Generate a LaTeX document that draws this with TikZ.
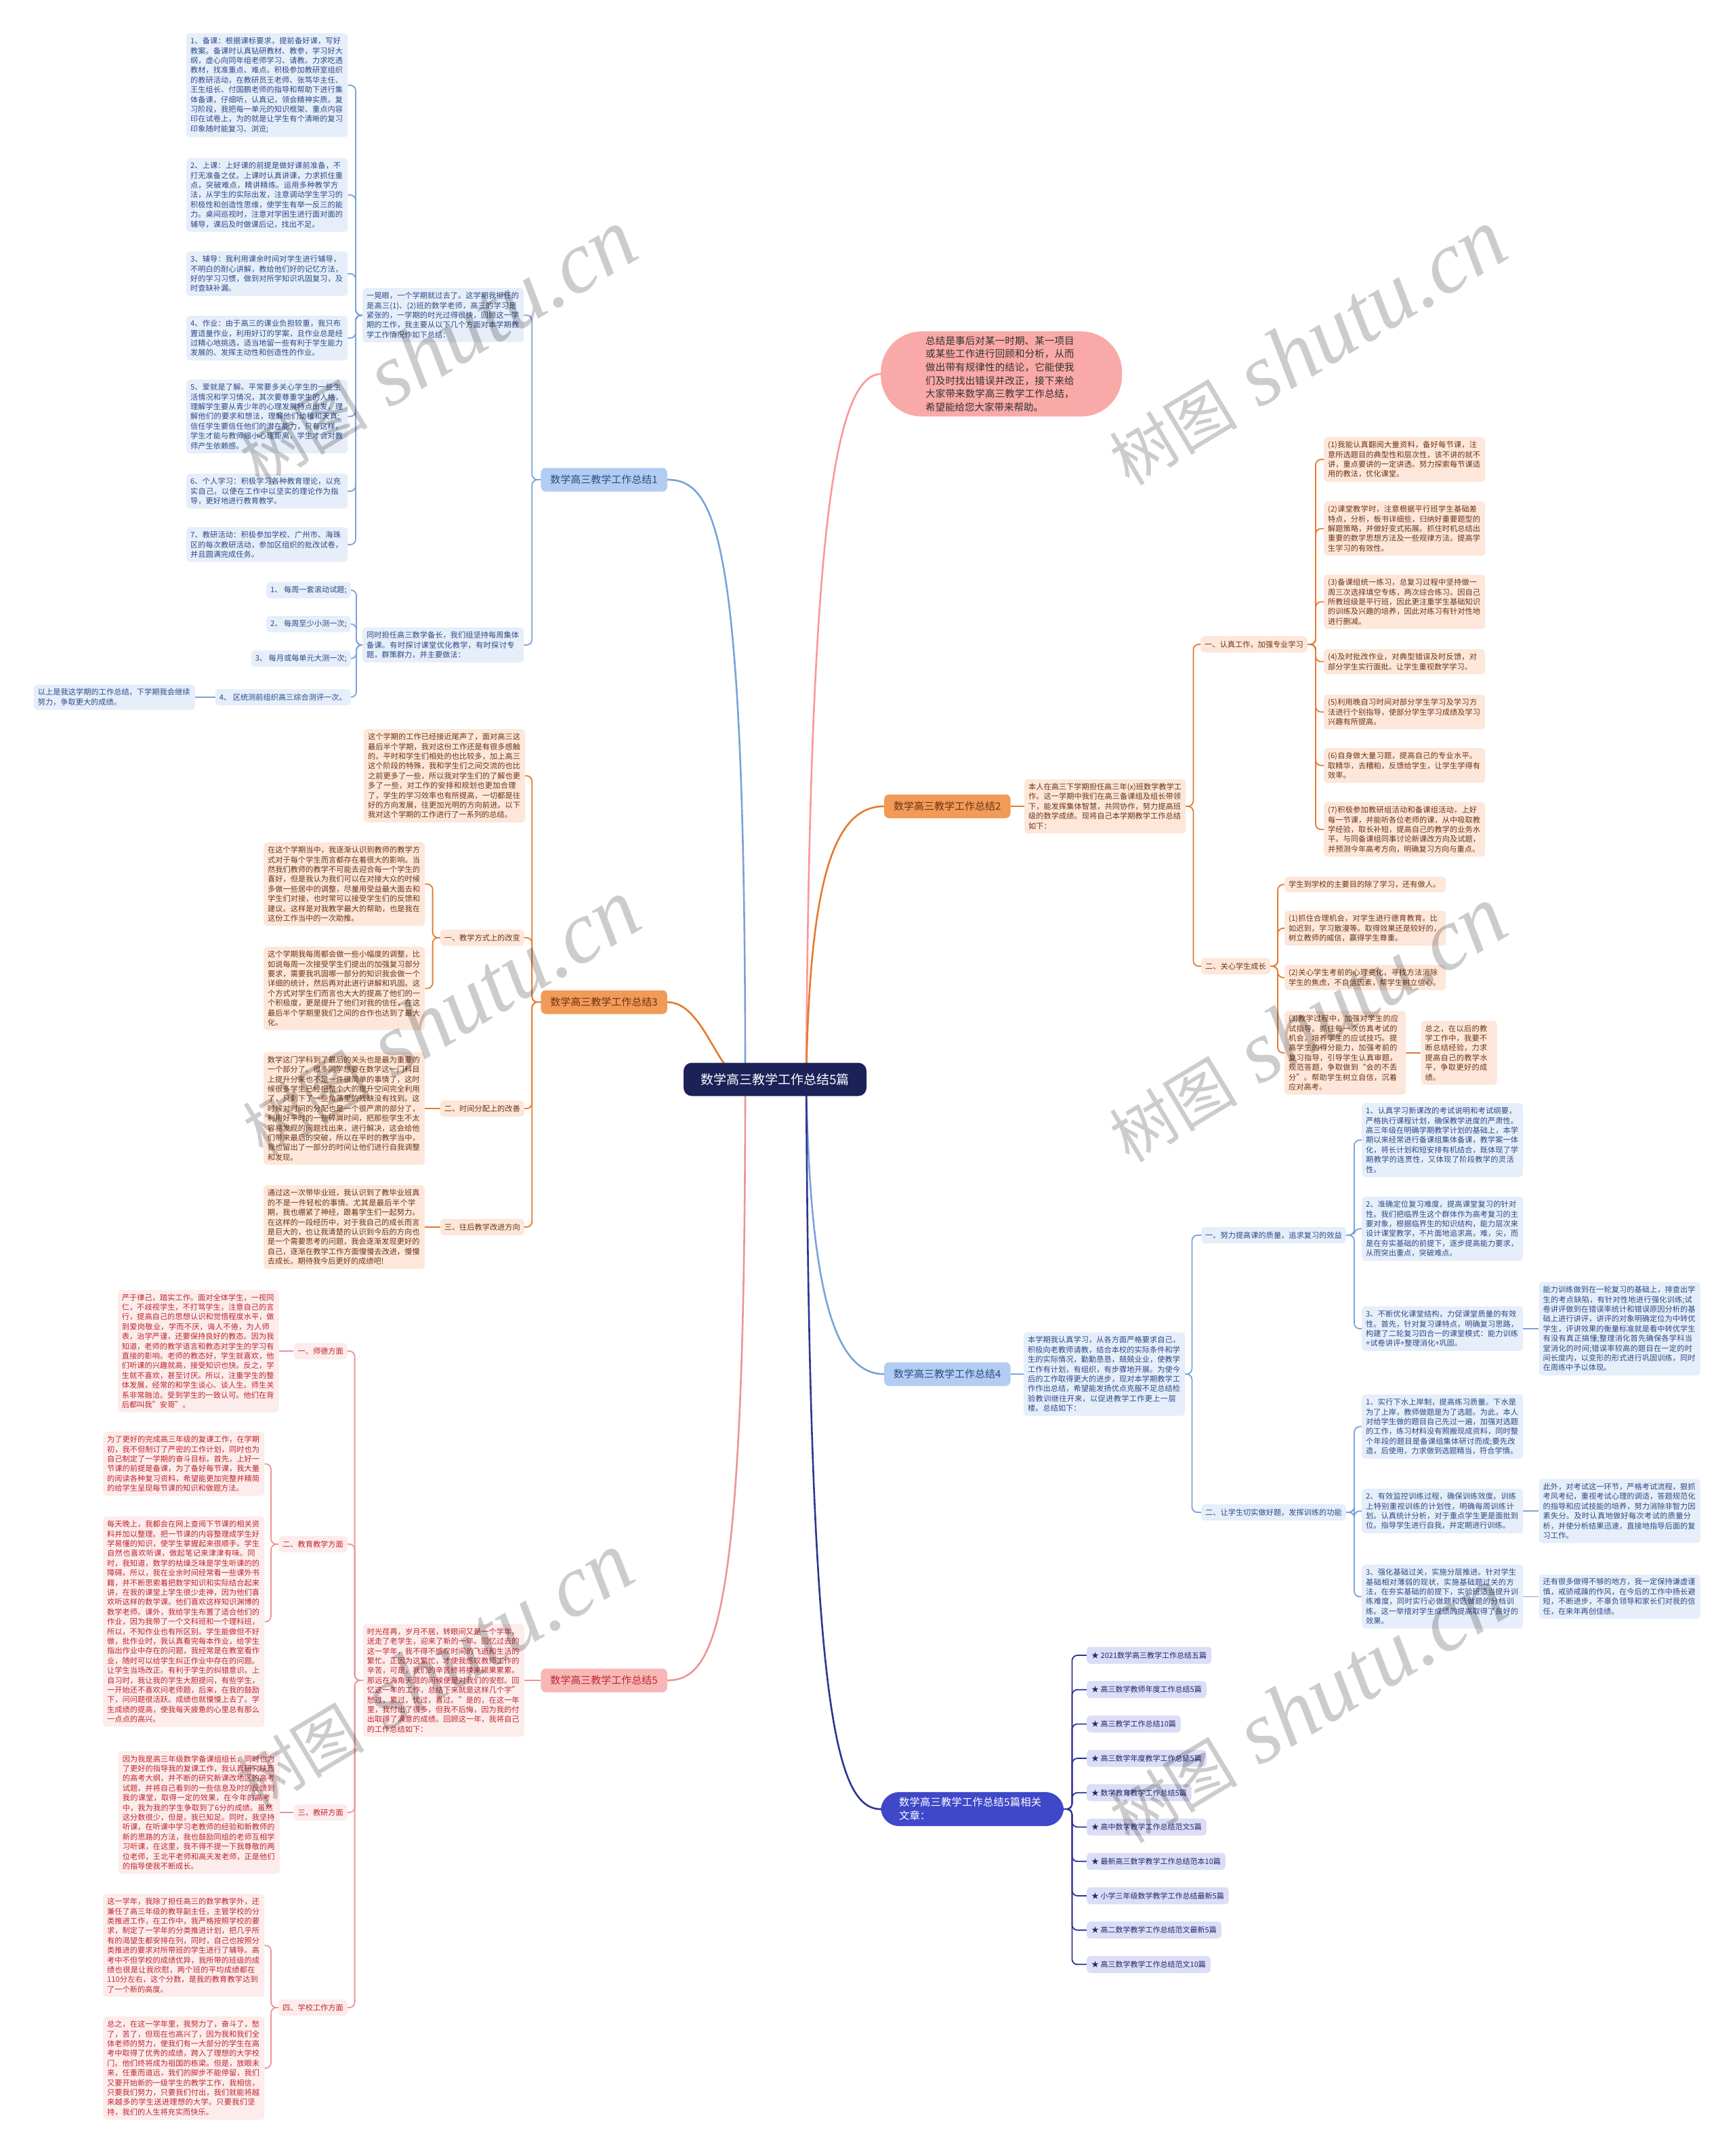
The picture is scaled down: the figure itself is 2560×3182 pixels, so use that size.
\documentclass[tikz,border=0pt]{standalone}
\usepackage{fontspec}
\setmainfont{Noto Sans CJK SC}
\newfontfamily\wmfont{Liberation Serif}
\usetikzlibrary{positioning}
\XeTeXlinebreaklocale "zh"
\XeTeXlinebreakskip=0pt plus 1pt

\definecolor{rootc}{HTML}{1C2257}
\definecolor{relc}{HTML}{3F48C8}
\definecolor{rell}{HTML}{2E3592}
\definecolor{relf}{HTML}{DCDDF6}
\definecolor{relt}{HTML}{23286A}
\definecolor{bluel}{HTML}{7AA2DB}
\definecolor{bluef}{HTML}{E6EEFA}
\definecolor{bluet}{HTML}{2B4C86}
\definecolor{blueb}{HTML}{B3CCF2}
\definecolor{orgl}{HTML}{E57A2E}
\definecolor{orgf}{HTML}{FDE7DA}
\definecolor{orgt}{HTML}{6E3412}
\definecolor{orgb}{HTML}{F29A57}
\definecolor{pnkl}{HTML}{EC9496}
\definecolor{pnkf}{HTML}{FDECEC}
\definecolor{pnkt}{HTML}{C0262D}
\definecolor{pnkb}{HTML}{F7B7B7}
\definecolor{introc}{HTML}{F9A9A7}

\pgfdeclarelayer{bg}
\pgfsetlayers{bg,main}

\begin{document}
\begin{tikzpicture}[x=1pt,y=-1pt,
  rootnode/.style={fill=rootc,text=white,rounded corners=12pt,inner xsep=24pt,minimum width=270pt,minimum height=49pt,font=\fontsize{19}{22}\selectfont},
  brn/.style={rounded corners=7pt,inner xsep=14pt,minimum height=35pt,font=\fontsize{15}{18}\selectfont},
  leaf/.style={rounded corners=5pt,inner xsep=6pt,inner ysep=6pt,text width=226pt,align=left,font=\fontsize{11.2}{14.4}\selectfont},
  tag/.style={rounded corners=5pt,inner xsep=6pt,minimum height=24pt,font=\fontsize{11.2}{14.4}\selectfont},
  bleaf/.style={fill=bluef,text=bluet},
  oleaf/.style={fill=orgf,text=orgt},
  pleaf/.style={fill=pnkf,text=pnkt},
  bubble/.style={fill=introc,text=black!80,rounded corners=60pt,inner xsep=66pt,inner ysep=7pt,text width=224pt,align=left,font=\fontsize{14.5}{19.6}\selectfont},
  relnode/.style={fill=relc,text=white,rounded corners=27pt,inner xsep=27pt,inner ysep=8pt,text width=216pt,align=left,font=\fontsize{15.3}{20}\selectfont},
  rleaf/.style={fill=relf,text=relt,rounded corners=5pt,inner xsep=7pt,minimum height=25pt,font=\fontsize{11}{13}\selectfont},
  limb/.style={line width=2.6pt},
  twig/.style={line width=1.8pt,rounded corners=8pt},
  wmark/.style={text=black,text opacity=0.2,rotate=31}]

\useasboundingbox (0,0) rectangle (2560,3182);

% centre
\node[rootnode] (root) at (1144,1593) {数学高三教学工作总结5篇};
\coordinate (rootL) at (1100,1593);
\coordinate (rootR) at (1190,1593);

% branch 1
\node[brn,fill=blueb,text=bluet,anchor=east] (b1) at (985,708) {数学高三教学工作总结1};
\node[leaf,bleaf,anchor=north west] (intro1) at (535,425) {一晃眼，一个学期就过去了。这学期我担任的是高三(1)、(2)班的数学老师，高三的学习是紧张的，一学期的时光过得很快，回顾这一学期的工作，我主要从以下几个方面对本学期教学工作情况作如下总结：};
\node[leaf,bleaf,anchor=north west] (p1) at (275,49) {1、备课：根据课标要求，提前备好课，写好教案。备课时认真钻研教材、教参，学习好大纲，虚心向同年组老师学习、请教。力求吃透教材，找准重点、难点。积极参加教研室组织的教研活动，在教研员王老师、张笃华主任、王生组长、付国鹏老师的指导和帮助下进行集体备课，仔细听，认真记，领会精神实质。复习阶段，我把每一单元的知识框架、重点内容印在试卷上，为的就是让学生有个清晰的复习印象随时能复习、浏览;};
\node[leaf,bleaf,anchor=north west] (p2) at (275,233) {2、上课：上好课的前提是做好课前准备，不打无准备之仗。上课时认真讲课，力求抓住重点，突破难点，精讲精练。运用多种教学方法，从学生的实际出发，注意调动学生学习的积极性和创造性思维，使学生有举一反三的能力。桌间巡视时，注意对学困生进行面对面的辅导，课后及时做课后记，找出不足。};
\node[leaf,bleaf,anchor=north west] (p3) at (275,371) {3、辅导：我利用课余时间对学生进行辅导，不明白的耐心讲解，教给他们好的记忆方法，好的学习习惯，做到对所学知识巩固复习，及时查缺补漏。};
\node[leaf,bleaf,anchor=north west] (p4) at (275,466) {4、作业：由于高三的课业负担较重，我只布置适量作业，利用好订的学案，且作业总是经过精心地挑选，适当地留一些有利于学生能力发展的、发挥主动性和创造性的作业。};
\node[leaf,bleaf,anchor=north west] (p5) at (275,560) {5、爱就是了解。平常要多关心学生的一些生活情况和学习情况，其次要尊重学生的人格，理解学生要从青少年的心理发展特点出发，理解他们的要求和想法，理解他们幼稚和天真;信任学生要信任他们的潜在能力，只有这样，学生才能与教师缩小心理距离，学生才会对教师产生依赖感。};
\node[leaf,bleaf,anchor=north west] (p6) at (275,699) {6、个人学习：积极学习各种教育理论，以充实自己，以便在工作中以坚实的理论作为指导，更好地进行教育教学。};
\node[leaf,bleaf,anchor=north west] (p7) at (275,778) {7、教研活动：积极参加学校、广州市、海珠区的每次教研活动，参加区组织的批改试卷，并且圆满完成任务。};
\node[leaf,bleaf,anchor=north west] (note1) at (535,926) {同时担任高三数学备长，我们组坚持每周集体备课。有时探讨课堂优化教学，有时探讨专题，群策群力，并主要做法：};
\node[tag,bleaf,anchor=east] (q1) at (518,871) {1、 每周一套滚动试题;};
\node[tag,bleaf,anchor=east] (q2) at (518,921) {2、 每周至少小测一次;};
\node[tag,bleaf,anchor=east] (q3) at (518,972) {3、 每月或每单元大测一次;};
\node[tag,bleaf,anchor=east] (q4) at (518,1029) {4、 区统测前组织高三综合测评一次。};
\node[leaf,bleaf,anchor=east] (c1) at (288,1029) {以上是我这学期的工作总结，下学期我会继续努力，争取更大的成绩。};

% branch 3
\node[brn,fill=orgb,text=orgt,anchor=east] (b3) at (985,1479) {数学高三教学工作总结3};
\node[leaf,oleaf,anchor=north west] (t0) at (537,1076) {这个学期的工作已经接近尾声了，面对高三这最后半个学期，我对这份工作还是有很多感触的。平时和学生们相处的也比较多，加上高三这个阶段的特殊，我和学生们之间交流的也比之前更多了一些，所以我对学生们的了解也更多了一些，对工作的安排和规划也更加合理了，学生的学习效率也有所提高，一切都是往好的方向发展，往更加光明的方向前进。以下我对这个学期的工作进行了一系列的总结。};
\node[tag,oleaf,anchor=east] (s1) at (774,1384) {一、教学方式上的改变};
\node[leaf,oleaf,anchor=north west] (s1a) at (389,1243) {在这个学期当中，我逐渐认识到教师的教学方式对于每个学生而言都存在着很大的影响。当然我们教师的教学不可能去迎合每一个学生的喜好，但是我认为我们可以在对接大众的时候多做一些居中的调整，尽量用受益最大面去和学生们对接，也时常可以接受学生们的反馈和建议。这样是对我教学最大的帮助，也是我在这份工作当中的一次助推。};
\node[leaf,oleaf,anchor=north west] (s1b) at (389,1397) {这个学期我每周都会做一些小幅度的调整，比如说每周一次接受学生们提出的加强复习部分要求，需要我巩固哪一部分的知识我会做一个详细的统计，然后再对此进行讲解和巩固。这个方式对学生们而言也大大的提高了他们的一个积极度，更是提升了他们对我的信任，在这最后半个学期里我们之间的合作也达到了最大化。};
\node[tag,oleaf,anchor=east] (s2) at (774,1636) {二、时间分配上的改善};
\node[leaf,oleaf,anchor=east] (s2a) at (627,1636) {数学这门学科到了最后的关头也是最为重要的一个部分了。很多同学想要在数学这一门科目上提升分来也不是一件很简单的事情了，这时候很多学生已经把整个大的提升空间完全利用了，只剩下了一些角落里的残缺没有找到。这时候对时间的分配也是一个很严肃的部分了，利用好平时的一些碎屑时间，把那些学生不太容易发现的问题找出来，进行解决，这会给他们带来最后的突破，所以在平时的教学当中，我也留出了一部分的时间让他们进行自我调整和发现。};
\node[tag,oleaf,anchor=east] (s3) at (774,1811) {三、往后教学改进方向};
\node[leaf,oleaf,anchor=east] (s3a) at (627,1811) {通过这一次带毕业班，我认识到了教毕业班真的不是一件轻松的事情。尤其是最后半个学期，我也绷紧了神经，跟着学生们一起努力。在这样的一段经历中，对于我自己的成长而言是巨大的，也让我清楚的认识到今后的方向也是一个需要思考的问题，我会逐渐发现更好的自己，逐渐在教学工作方面慢慢去改进，慢慢去成长。期待我今后更好的成绩吧!};

% branch 5
\node[brn,fill=pnkb,text=pnkt,anchor=east] (b5) at (985,2480) {数学高三教学工作总结5};
\node[leaf,pleaf,anchor=east] (v0) at (774,2480) {时光荏苒，岁月不居，转眼间又是一个学年。送走了老学生，迎来了新的一年。回忆过去的这一学年，我不得不感叹时间的飞逝和生活的繁忙。正因为这繁忙，才使我感叹教师工作的辛苦，可是，我们的辛苦终将换来硕果累累。那远在海角天涯的问候便是对我们的安慰。回忆这一年的工作，总结下来就是这样几个字”愁过，累过，忧过，喜过。”是的，在这一年里，我付出了很多，但我不后悔，因为我的付出取得了满意的成绩。回顾这一年，我将自己的工作总结如下：};
\node[tag,pleaf,anchor=east] (v1) at (513,1994) {一、师德方面};
\node[leaf,pleaf,anchor=east] (v1a) at (412,1994) {严于律己，踏实工作。面对全体学生，一视同仁，不歧视学生，不打骂学生，注意自己的言行，提高自己的思想认识和觉悟程度水平，做到爱岗敬业，学而不厌，诲人不倦，为人师表，治学严谨，还要保持良好的教态。因为我知道，老师的教学语言和教态对学生的学习有直接的影响。老师的教态好，学生就喜欢，他们听课的兴趣就高，接受知识也快。反之，学生就不喜欢，甚至讨厌。所以，注重学生的整体发展，经常的和学生谈心、谈人生。师生关系非常融洽。受到学生的一致认可。他们在背后都叫我”安哥”。};
\node[tag,pleaf,anchor=east] (v2) at (513,2279) {二、教育教学方面};
\node[leaf,pleaf,anchor=north west] (v2a) at (152,2113) {为了更好的完成高三年级的复课工作，在学期初，我不但制订了严密的工作计划，同时也为自己制定了一学期的奋斗目标。首先，上好一节课的前提是备课，为了备好每节课，我大量的阅读各种复习资料，希望能更加完整并精简的给学生呈现每节课的知识和做题方法。};
\node[leaf,pleaf,anchor=north west] (v2b) at (152,2238) {每天晚上，我都会在网上查阅下节课的相关资料并加以整理。把一节课的内容整理成学生好学易懂的知识，使学生掌握起来很顺手。学生自然也喜欢听课，做起笔记来津津有味。同时，我知道，数学的枯燥乏味是学生听课的的障碍。所以，我在业余时间经常看一些课外书籍，并不断思索着把数学知识和实际结合起来讲，在我的课堂上学生很少走神，因为他们喜欢听这样的数学课。他们喜欢这样知识渊博的数学老师。课外，我给学生布置了适合他们的作业，因为我带了一个文科班和一个理科班，所以，不知作业也有所区别。学生能做但不好做，批作业时，我认真看完每本作业，给学生指出作业中存在的问题，我经常是在教室看作业，随时可以给学生纠正作业中存在的问题。让学生当场改正。有利于学生的纠错意识。上自习时，我让我的学生大胆提问，有些学生，一开始还不喜欢问老师题，后来，在我的鼓励下，问问题很活跃。成绩也就慢慢上去了。学生成绩的提高，使我每天疲惫的心里总有那么一点点的高兴。};
\node[tag,pleaf,anchor=east] (v3) at (513,2675) {三、教研方面};
\node[leaf,pleaf,anchor=east] (v3a) at (413,2675) {因为我是高三年级数学备课组组长，同时也为了更好的指导我的复课工作，我认真研究陕西的高考大纲，并不断的研究新课改地区的高考试题，并将自己看到的一些信息及时的反馈到我的课堂，取得一定的效果，在今年的高考中，我为我的学生争取到了6分的成绩。虽然这分数很少，但是，我已知足。同时，我坚持听课，在听课中学习老教师的经验和新教师的新的思路的方法，我也鼓励同组的老师互相学习听课，在这里，我不得不提一下我尊敬的两位老师，王北平老师和高天发老师，正是他们的指导使我不断成长。};
\node[tag,pleaf,anchor=east] (v4) at (513,2963) {四、学校工作方面};
\node[leaf,pleaf,anchor=north west] (v4a) at (152,2795) {这一学年，我除了担任高三的数学教学外，还兼任了高三年级的教导副主任，主管学校的分类推进工作，在工作中，我严格按照学校的要求，制定了一学年的分类推进计划，把几乎所有的渴望生都安排在列，同时，自己也按照分类推进的要求对所带班的学生进行了辅导。高考中不但学校的成绩优异，我所带的班级的成绩也很是让我欣慰，两个班的平均成绩都在110分左右，这个分数，是我的教育教学达到了一个新的高度。};
\node[leaf,pleaf,anchor=north west] (v4b) at (152,2976) {总之，在这一学年里，我努力了，奋斗了，愁了，苦了，但现在也高兴了，因为我和我们全体老师的努力，使我们有一大部分的学生在高考中取得了优秀的成绩，跨入了理想的大学校门。他们终将成为祖国的栋梁。但是，放眼未来，任重而道远，我们的脚步不能停留，我们又要开始新的一级学生的教学工作，我相信，只要我们努力，只要我们付出，我们就能将越来越多的学生送进理想的大学。只要我们坚持，我们的人生将充实而快乐。};

% intro bubble and branch 2
\node[bubble,anchor=north west] (intro) at (1300,489) {总结是事后对某一时期、某一项目或某些工作进行回顾和分析，从而做出带有规律性的结论，它能使我们及时找出错误并改正，接下来给大家带来数学高三教学工作总结，希望能给您大家带来帮助。};
\node[brn,fill=orgb,text=orgt,anchor=west] (b2) at (1305,1190) {数学高三教学工作总结2};
\node[leaf,oleaf,anchor=west] (b2t) at (1512,1190) {本人在高三下学期担任高三年(x)班数学教学工作。这一学期中我们在高三备课组及组长带领下，能发挥集体智慧，共同协作，努力提高班级的数学成绩。现将自己本学期教学工作总结如下：};
\node[tag,oleaf,anchor=west] (r1) at (1772,951) {一、认真工作，加强专业学习};
\node[leaf,oleaf,anchor=north west] (r1a) at (1954,645) {(1)我能认真翻阅大量资料，备好每节课，注意所选题目的典型性和层次性，该不讲的就不讲，重点要讲的一定讲透。努力探索每节课适用的教法，优化课堂。};
\node[leaf,oleaf,anchor=north west] (r1b) at (1954,740) {(2)课堂教学时，注意根据平行班学生基础差特点，分析，板书详细些，归纳好重要题型的解题策略，并做好变式拓展。抓住时机总结出重要的数学思想方法及一些规律方法。提高学生学习的有效性。};
\node[leaf,oleaf,anchor=north west] (r1c) at (1954,848) {(3)备课组统一练习，总复习过程中坚持做一周三次选择填空专练，两次综合练习。因自己所教班级是平行班，因此更注重学生基础知识的训练及兴趣的培养，因此对练习有针对性地进行删减。};
\node[leaf,oleaf,anchor=north west] (r1d) at (1954,958) {(4)及时批改作业，对典型错误及时反馈，对部分学生实行面批。让学生重视数学学习。};
\node[leaf,oleaf,anchor=north west] (r1e) at (1954,1025) {(5)利用晚自习时间对部分学生学习及学习方法进行个别指导，使部分学生学习成绩及学习兴趣有所提高。};
\node[leaf,oleaf,anchor=north west] (r1f) at (1954,1104) {(6)自身做大量习题，提高自己的专业水平。取精华，去糟粕，反馈给学生，让学生学得有效率。};
\node[leaf,oleaf,anchor=north west] (r1g) at (1954,1184) {(7)积极参加教研组活动和备课组活动，上好每一节课，并能听各位老师的课，从中吸取教学经验，取长补短，提高自己的教学的业务水平。与同备课组同事讨论新课改方向及试题，并预测今年高考方向，明确复习方向与重点。};
\node[tag,oleaf,anchor=west] (r2) at (1773,1426) {二、关心学生成长};
\node[leaf,oleaf,anchor=north west] (r2a) at (1896,1294) {学生到学校的主要目的除了学习，还有做人。};
\node[leaf,oleaf,anchor=north west] (r2b) at (1896,1344) {(1)抓住合理机会，对学生进行德育教育。比如迟到，学习散漫等。取得效果还是较好的，树立教师的威信，赢得学生尊重。};
\node[leaf,oleaf,anchor=north west] (r2c) at (1896,1424) {(2)关心学生考前的心理变化，寻找方法消除学生的焦虑，不自信因素，帮学生树立信心。};
\node[leaf,oleaf,anchor=north west,text width=167pt] (r2d) at (1896,1492) {(3)教学过程中，加强对学生的应试指导。抓住每一次仿真考试的机会，培养学生的应试技巧。提高学生的得分能力，加强考前的复习指导，引导学生认真审题，规范答题，争取做到“会的不丢分”。帮助学生树立自信，沉着应对高考。};
\node[leaf,oleaf,text width=100pt,right=22pt of r2d] (r2e) {总之，在以后的教学工作中，我要不断总结经验，力求提高自己的教学水平，争取更好的成绩。};

% branch 4
\node[brn,fill=blueb,text=bluet,anchor=west] (b4) at (1305,2028) {数学高三教学工作总结4};
\node[leaf,bleaf,anchor=west] (b4t) at (1511,2028) {本学期我认真学习，从各方面严格要求自己，积极向老教师请教，结合本校的实际条件和学生的实际情况，勤勤恳恳，兢兢业业，使教学工作有计划，有组织，有步骤地开展。为使今后的工作取得更大的进步，现对本学期教学工作作出总结，希望能发扬优点克服不足总结检验教训继往开来，以促进教学工作更上一层楼。总结如下：};
\node[tag,bleaf,anchor=west] (u1) at (1773,1823) {一、努力提高课的质量，追求复习的效益};
\node[leaf,bleaf,anchor=north west] (u1a) at (2010,1628) {1、认真学习新课改的考试说明和考试纲要，严格执行课程计划，确保教学进度的严肃性。高三年级在明确学期教学计划的基础上，本学期以来经常进行备课组集体备课，教学案一体化，将长计划和短安排有机结合，既体现了学期教学的连贯性，又体现了阶段教学的灵活性。};
\node[leaf,bleaf,anchor=north west] (u1b) at (2010,1766) {2、准确定位复习难度，提高课堂复习的针对性。我们把临界生这个群体作为高考复习的主要对象，根据临界生的知识结构，能力层次来设计课堂教学，不片面地追求高，难，尖，而是在夯实基础的前提下，逐步提高能力要求，从而突出重点，突破难点。};
\node[leaf,bleaf,anchor=north west] (u1c) at (2010,1928) {3、不断优化课堂结构，力促课堂质量的有效性。首先，针对复习课特点，明确复习思路，构建了二轮复习四合一的课堂模式：能力训练+试卷讲评+整理消化+巩固。};
\node[leaf,bleaf,right=23pt of u1c] (u1d) {能力训练做到在一轮复习的基础上，排查出学生的考点缺陷，有针对性地进行强化训练;试卷讲评做到在错误率统计和错误原因分析的基础上进行讲评，讲评的对象明确定位为中转优学生，评讲效果的衡量标准就是看中转优学生有没有真正搞懂;整理消化首先确保各学科当堂消化的时间;错误率较高的题目在一定的时间长度内，以变形的形式进行巩固训练，同时在周练中予以体现。};
\node[tag,bleaf,anchor=west] (u2) at (1773,2232) {二、让学生切实做好题，发挥训练的功能};
\node[leaf,bleaf,anchor=north west] (u2a) at (2010,2058) {1、实行下水上岸制，提高练习质量。下水是为了上岸，教师做题是为了选题。为此，本人对给学生做的题目自己先过一遍，加强对选题的工作，练习材料没有照搬现成资料，同时整个年段的题目是备课组集体研讨而成;要先改造，后使用，力求做到选题精当，符合学情。};
\node[leaf,bleaf,anchor=north west] (u2b) at (2010,2197) {2、有效监控训练过程，确保训练效度。训练上特别重视训练的计划性，明确每周训练计划。认真统计分析，对于重点学生更是面批到位。指导学生进行自我，并定期进行训练。};
\node[leaf,bleaf,right=23pt of u2b] (u2c) {此外，对考试这一环节，严格考试流程，狠抓考风考纪，重视考试心理的调适，答题规范化的指导和应试技能的培养，努力消除非智力因素失分。及时认真地做好每次考试的质量分析，并使分析结果迅速，直接地指导后面的复习工作。};
\node[leaf,bleaf,anchor=north west] (u2d) at (2010,2309) {3、强化基础过关，实施分层推进。针对学生基础相对薄弱的现状，实施基础题过关的方法，在夯实基础的前提下，实验班适当提升训练难度，同时实行必做题和选做题的分档训练。这一举措对学生成绩的提高取得了良好的效果。};
\node[leaf,bleaf,right=23pt of u2d] (u2e) {还有很多做得不够的地方，我一定保持谦虚谨慎，戒骄戒躁的作风，在今后的工作中扬长避短，不断进步，不辜负领导和家长们对我的信任，在来年再创佳绩。};

% related articles
\node[relnode,anchor=west] (rel) at (1300,2670) {数学高三教学工作总结5篇相关文章：};
\foreach \t [count=\i] in {{★ 2021数学高三教学工作总结五篇},{★ 高三数学教师年度工作总结5篇},{★ 高三教学工作总结10篇},{★ 高三数学年度教学工作总结5篇},{★ 数学教育教学工作总结5篇},{★ 高中数学教学工作总结范文5篇},{★ 最新高三数学教学工作总结范本10篇},{★ 小学三年级数学教学工作总结最新5篇},{★ 高二数学教学工作总结范文最新5篇},{★ 高三数学教学工作总结范文10篇}}
  \node[rleaf,anchor=west] (rl\i) at (1604,{2392.3+50.7*\i}) {\t};

% connectors
\begin{pgfonlayer}{bg}
  \fill[white] (0,0) rectangle (2560,3182);
  \draw[bluel,limb] (rootL) .. controls (1100,800) and (1060,708) .. (b1.east);
  \draw[orgl,limb] (rootL) .. controls (1060,1593) and (1040,1479) .. (b3.east);
  \draw[pnkl,limb] (rootL) .. controls (1100,2380) and (1060,2480) .. (b5.east);
  \draw[introc!90!red,limb] (rootR) .. controls (1195,800) and (1230,554) .. (intro.west);
  \draw[orgl,limb] (rootR) .. controls (1195,1300) and (1230,1190) .. (b2.west);
  \draw[bluel,limb] (rootR) .. controls (1195,1900) and (1230,2028) .. (b4.west);
  \draw[rell,limb] (rootR) .. controls (1195,2500) and (1230,2670) .. (rel.west);
  % branch 1
  \foreach \c in {intro1,note1} \draw[bluel,twig] (b1.west) -- ++(-13,0) |- (\c.east);
  \foreach \i in {1,...,7} \draw[bluel,twig] (intro1.west) -- ++(-10,0) |- (p\i.east);
  \foreach \i in {1,...,4} \draw[bluel,twig] (note1.west) -- ++(-9,0) |- (q\i.east);
  \draw[bluel,twig] (q4.west) -- (c1.east);
  % branch 3
  \foreach \c in {t0,s1,s2,s3} \draw[orgl,twig] (b3.west) -- ++(-13,0) |- (\c.east);
  \foreach \c in {s1a,s1b} \draw[orgl,twig] (s1.west) -- ++(-11,0) |- (\c.east);
  \draw[orgl,twig] (s2.west) -- (s2a.east);
  \draw[orgl,twig] (s3.west) -- (s3a.east);
  % branch 5
  \draw[pnkl,twig] (b5.west) -- (v0.east);
  \foreach \i in {1,...,4} \draw[pnkl,twig] (v0.west) -- ++(-12,0) |- (v\i.east);
  \draw[pnkl,twig] (v1.west) -- (v1a.east);
  \foreach \c in {v2a,v2b} \draw[pnkl,twig] (v2.west) -- ++(-11,0) |- (\c.east);
  \draw[pnkl,twig] (v3.west) -- (v3a.east);
  \foreach \c in {v4a,v4b} \draw[pnkl,twig] (v4.west) -- ++(-11,0) |- (\c.east);
  % branch 2
  \draw[orgl,twig] (b2.east) -- (b2t.west);
  \foreach \c in {r1,r2} \draw[orgl,twig] (b2t.east) -- ++(11,0) |- (\c.west);
  \foreach \c in {a,b,c,d,e,f,g} \draw[orgl,twig] (r1.east) -- ++(12,0) |- (r1\c.west);
  \foreach \c in {a,b,c,d} \draw[orgl,twig] (r2.east) -- ++(11,0) |- (r2\c.west);
  \draw[orgl,twig] (r2d.east) -- (r2e.west);
  % branch 4
  \draw[bluel,twig] (b4.east) -- (b4t.west);
  \foreach \c in {u1,u2} \draw[bluel,twig] (b4t.east) -- ++(10,0) |- (\c.west);
  \foreach \c in {a,b,c} \draw[bluel,twig] (u1.east) -- ++(12,0) |- (u1\c.west);
  \draw[bluel,twig] (u1c.east) -- (u1d.west);
  \foreach \c in {a,b,d} \draw[bluel,twig] (u2.east) -- ++(12,0) |- (u2\c.west);
  \draw[bluel,twig] (u2b.east) -- (u2c.west);
  \draw[bluel,twig] (u2d.east) -- (u2e.west);
  % related
  \foreach \i in {1,...,10} \draw[rell,twig] (rel.east) -- ++(12,0) |- (rl\i.west);
\end{pgfonlayer}

% watermarks
\foreach \wx/\wy [count=\k] in {645/513,1929/513,650/1502,1929/1512,640/2466,1929/2517}
  \node[wmark] (wm\k) at (\wx,\wy) {{\fontsize{95}{95}\selectfont 树图\hspace{0.35em}}{\wmfont\itshape\fontsize{130}{130}\selectfont shutu.cn}};
\end{tikzpicture}
\end{document}
